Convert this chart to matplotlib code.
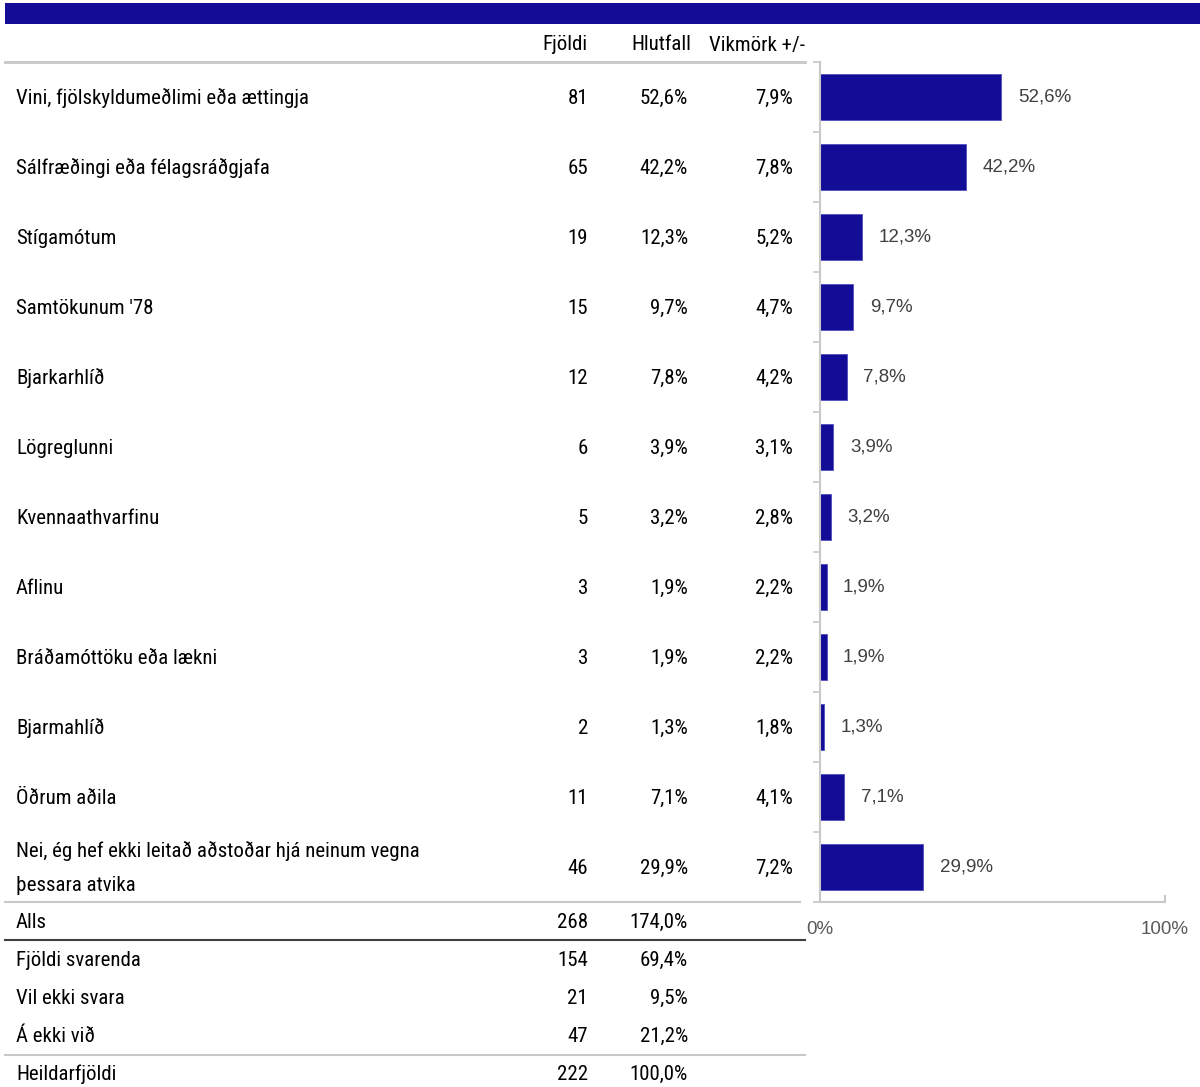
import matplotlib
matplotlib.use("Agg")
import matplotlib.pyplot as plt
from matplotlib import font_manager

categories = [
    "Vini, fjölskyldumeðlimi eða ættingja",
    "Sálfræðingi eða félagsráðgjafa",
    "Stígamótum",
    "Samtökunum '78",
    "Bjarkarhlíð",
    "Lögreglunni",
    "Kvennaathvarfinu",
    "Aflinu",
    "Bráðamóttöku eða lækni",
    "Bjarmahlíð",
    "Öðrum aðila",
    "Nei, ég hef ekki leitað aðstoðar hjá neinum vegna\nþessara atvika",
]
counts = [81, 65, 19, 15, 12, 6, 5, 3, 3, 2, 11, 46]
percents = [52.6, 42.2, 12.3, 9.7, 7.8, 3.9, 3.2, 1.9, 1.9, 1.3, 7.1, 29.9]
margins = [7.9, 7.8, 5.2, 4.7, 4.2, 3.1, 2.8, 2.2, 2.2, 1.8, 4.1, 7.2]
headers = ["Fjöldi", "Hlutfall", "Vikmörk +/-"]

footer_labels = ["Alls", "Fjöldi svarenda", "Vil ekki svara", "Á ekki við", "Heildarfjöldi"]
footer_counts = [268, 154, 21, 47, 222]
footer_percents = [174.0, 69.4, 9.5, 21.2, 100.0]

axis_ticks = [0, 100]

avail = {f.name for f in font_manager.fontManager.ttflist}
fam = [f for f in ["Liberation Sans Narrow", "Arial Narrow", "Roboto Condensed", "Pragati Narrow",
                   "Liberation Sans", "DejaVu Sans"] if f in avail]
plt.rcParams['font.family'] = fam
reg = [f for f in ["Liberation Sans", "Arimo", "DejaVu Sans"] if f in avail]

W, H = 1200, 1087
fig = plt.figure(figsize=(W / 100, H / 100), dpi=100)
bg = fig.add_axes([0, 0, 1, 1])
bg.set_xlim(0, W)
bg.set_ylim(H, 0)
bg.axis("off")

NAVY = "#130c96"
LGRAY = "#c8c8c8"
fs = 15

def fmt(v, d=1):
    return f"{v:.{d}f}%".replace(".", ",")

# top banner
bg.add_patch(plt.Rectangle((5, 3), W - 5, 21, color=NAVY, lw=0))

# header
hy = 45
bg.text(588, hy, headers[0], ha="right", va="center", fontsize=fs)
bg.text(691, hy, headers[1], ha="right", va="center", fontsize=fs)
bg.text(805, hy, headers[2], ha="right", va="center", fontsize=fs)
bg.plot([5, 805], [62, 62], color=LGRAY, lw=2)

top, rowh = 62, 70
for i, cat in enumerate(categories):
    cy = top + rowh * (i + 0.5) + 1
    bg.text(16, cy, cat, ha="left", va="center", fontsize=fs, linespacing=1.95)
    bg.text(588, cy, f"{counts[i]}", ha="right", va="center", fontsize=fs)
    bg.text(688, cy, fmt(percents[i]), ha="right", va="center", fontsize=fs)
    bg.text(793, cy, fmt(margins[i]), ha="right", va="center", fontsize=fs)

bottom = top + rowh * len(categories)
bg.plot([5, 800], [bottom, bottom], color=LGRAY, lw=1.5)

fy = [922, 960, 998, 1036, 1074]
for i, lab in enumerate(footer_labels):
    bg.text(16, fy[i], lab, ha="left", va="center", fontsize=fs)
    bg.text(588, fy[i], f"{footer_counts[i]}", ha="right", va="center", fontsize=fs)
    bg.text(688, fy[i], fmt(footer_percents[i]), ha="right", va="center", fontsize=fs)
bg.plot([5, 805], [940, 940], color="#404040", lw=1.5)
bg.plot([5, 805], [1055, 1055], color=LGRAY, lw=1.5)

# bar chart axes
x0, x1 = 820, 1165
ax = fig.add_axes([x0 / W, 1 - bottom / H, (x1 - x0) / W, (bottom - top) / H])
ax.patch.set_alpha(0)
n = len(categories)
ypos = list(range(n))
ax.barh(ypos, percents, height=0.65, color=NAVY, edgecolor="#5050c0", linewidth=0.6)
ax.set_xlim(0, 100)
ax.set_ylim(n - 0.5, -0.5)
for y, p in zip(ypos, percents):
    ax.text(p + 4.8, y, fmt(p), ha="left", va="center", fontsize=13.5, color="#404040", family=reg)
for s in ["top", "right"]:
    ax.spines[s].set_visible(False)
ax.spines["left"].set_color(LGRAY)
ax.spines["bottom"].set_color(LGRAY)
ax.spines["left"].set_linewidth(1.5)
ax.spines["bottom"].set_linewidth(1.5)
ax.set_yticks([i - 0.5 for i in range(n + 1)])
ax.set_yticklabels([])
ax.tick_params(axis="y", length=5, color=LGRAY, width=1.2)
ax.set_xticks(axis_ticks)
ax.set_xticklabels([f"{t}%" for t in axis_ticks], family=reg)
ax.tick_params(axis="x", length=0, pad=14, labelsize=13.5, labelcolor="#595959")
ax.plot([100, 100], [n - 0.5, n - 0.58], color=LGRAY, lw=1.5, clip_on=False)

fig.savefig("out.png", dpi=100)
